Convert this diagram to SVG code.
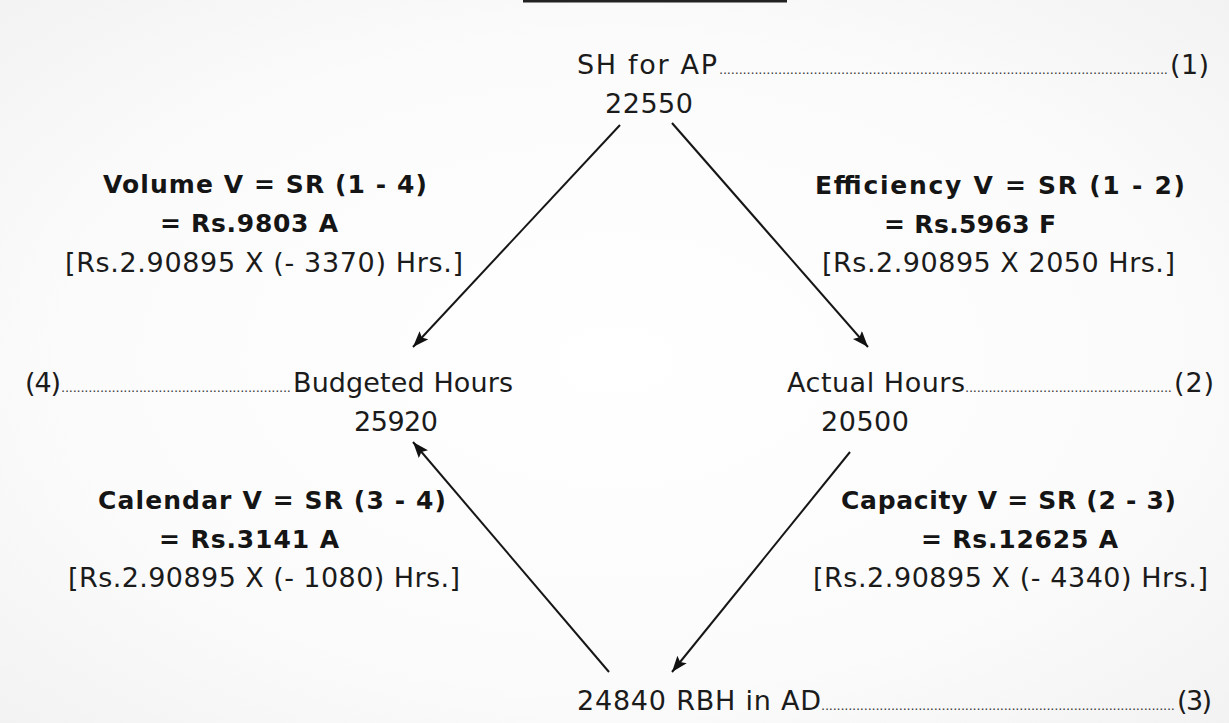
<svg xmlns="http://www.w3.org/2000/svg" width="1229" height="723" viewBox="0 0 1229 723">
  <defs>
    <radialGradient id="bg" cx="50%" cy="50%" r="75%">
      <stop offset="0%" stop-color="#ffffff"/>
      <stop offset="60%" stop-color="#fbfbfb"/>
      <stop offset="100%" stop-color="#f1f1f1"/>
    </radialGradient>
    <marker id="arrow" markerUnits="userSpaceOnUse" markerWidth="18" markerHeight="14" refX="16" refY="6" orient="auto">
      <path d="M0,0 L16,6 L0,12 L3,6 z" fill="#111"/>
    </marker>
    <style>
      .t { font-family: "DejaVu Sans", "Liberation Sans", sans-serif; font-size: 27px; fill: #1b1b1b; }
      .b { font-family: "DejaVu Sans", "Liberation Sans", sans-serif; font-size: 25px; font-weight: bold; fill: #151515; }
      .d { font-family: "DejaVu Sans", "Liberation Sans", sans-serif; font-size: 13px; fill: #3a3a3a; }
      .c { stroke: #161616; stroke-width: 2; fill: none; marker-end: url(#arrow); }
    </style>
  </defs>
  <rect x="0" y="0" width="1229" height="723" fill="url(#bg)"/>
  <rect x="523" y="0" width="264" height="2.5" fill="#222"/>

  <g id="connectors">
    <line class="c" x1="620" y1="125" x2="413" y2="347"/>
    <line class="c" x1="672" y1="123" x2="868" y2="347"/>
    <line class="c" x1="850" y1="452" x2="672" y2="672"/>
    <line class="c" x1="609" y1="672" x2="413" y2="442"/>
  </g>

  <g id="node-1">
    <text class="t" x="577" y="74" textLength="140">SH for AP</text>
    <text class="d" x="719" y="74" textLength="449">..................................................................................................................</text>
    <text class="t" x="1170" y="74" textLength="39">(1)</text>
    <text class="t" x="605" y="113" textLength="88">22550</text>
  </g>

  <g id="node-4">
    <text class="t" x="25" y="392" textLength="36">(4)</text>
    <text class="d" x="61" y="392" textLength="230">...........................................................</text>
    <text class="t" x="293" y="392" textLength="220">Budgeted Hours</text>
    <text class="t" x="354" y="431" textLength="84">25920</text>
  </g>

  <g id="node-2">
    <text class="t" x="787" y="392" textLength="178">Actual Hours</text>
    <text class="d" x="965" y="392" textLength="207">.....................................................</text>
    <text class="t" x="1174" y="392" textLength="40">(2)</text>
    <text class="t" x="821" y="431" textLength="88">20500</text>
  </g>

  <g id="node-3">
    <text class="t" x="577" y="710" textLength="244">24840 RBH in AD</text>
    <text class="d" x="821" y="710" textLength="354">...........................................................................................</text>
    <text class="t" x="1177" y="710" textLength="35">(3)</text>
  </g>

  <g id="label-volume">
    <text class="b" x="103" y="193" textLength="324">Volume V = SR (1 - 4)</text>
    <text class="b" x="160" y="232" textLength="178">= Rs.9803 A</text>
    <text class="t" x="65" y="272" textLength="398">[Rs.2.90895 X (- 3370) Hrs.]</text>
  </g>

  <g id="label-efficiency">
    <text class="b" x="815" y="194" textLength="370">Efficiency V = SR (1 - 2)</text>
    <text class="b" x="884" y="233" textLength="172">= Rs.5963 F</text>
    <text class="t" x="822" y="272" textLength="353">[Rs.2.90895 X 2050 Hrs.]</text>
  </g>

  <g id="label-calendar">
    <text class="b" x="98" y="509" textLength="348">Calendar V = SR (3 - 4)</text>
    <text class="b" x="159" y="548" textLength="180">= Rs.3141 A</text>
    <text class="t" x="68" y="587" textLength="392">[Rs.2.90895 X (- 1080) Hrs.]</text>
  </g>

  <g id="label-capacity">
    <text class="b" x="841" y="509" textLength="335">Capacity V = SR (2 - 3)</text>
    <text class="b" x="921" y="548" textLength="197">= Rs.12625 A</text>
    <text class="t" x="813" y="587" textLength="395">[Rs.2.90895 X (- 4340) Hrs.]</text>
  </g>
</svg>
